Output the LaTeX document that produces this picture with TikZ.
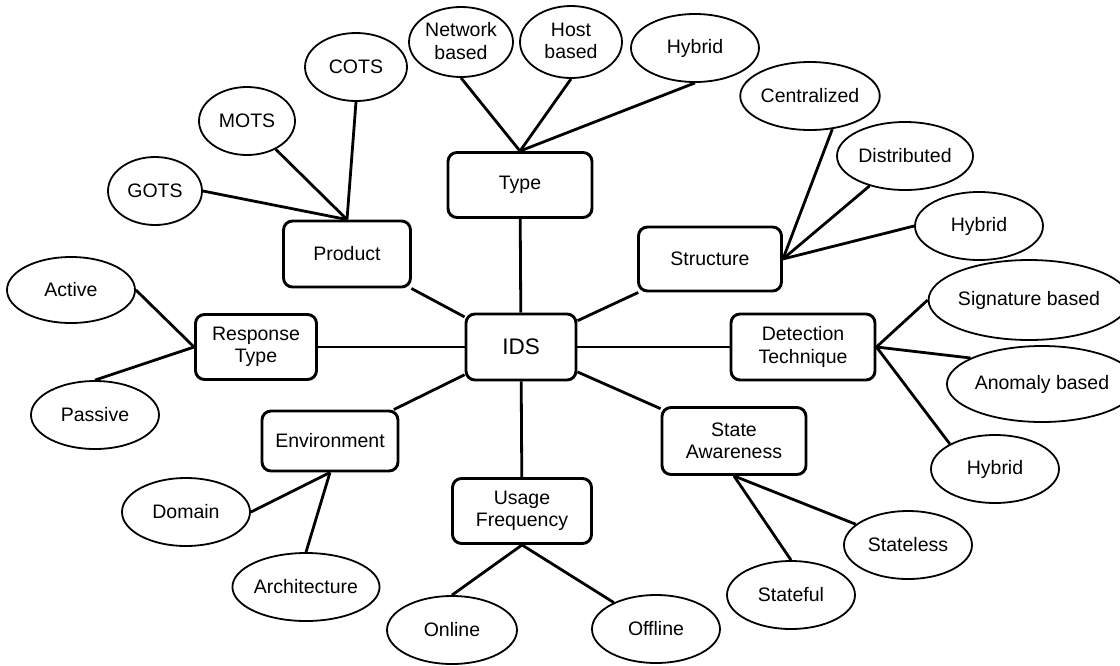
\documentclass[tikz,border=0pt]{standalone}
\usepackage{fontspec}
\setmainfont{Liberation Sans}
\usetikzlibrary{shapes.geometric}
\begin{document}
\begin{tikzpicture}[x=1pt,y=-1pt,
  every node/.style={font=\fontsize{19.5}{22.5}\selectfont},
  box/.style={draw, line width=2.9pt, rounded corners=9pt, align=center, inner sep=0pt},
  leaf/.style={draw, ellipse, line width=1.8pt, align=center, inner sep=0pt},
  conn/.style={line width=2.8pt}]
\useasboundingbox (0,0) rectangle (1120,665);
% central and category boxes
\node[box, minimum width=110pt, minimum height=66pt, font=\fontsize{22.5}{25}\selectfont] (ids) at (521,347) {IDS};
\node[box, minimum width=144pt, minimum height=65pt] (type) at (520,185) {Type};
\node[box, minimum width=127pt, minimum height=66pt] (product) at (347,254) {Product};
\node[box, minimum width=143pt, minimum height=64pt] (structure) at (710,259) {Structure};
\node[box, minimum width=144pt, minimum height=66pt] (detect) at (803,347) {Detection\\Technique};
\node[box, minimum width=121pt, minimum height=65pt] (response) at (256,347) {Response\\Type};
\node[box, minimum width=136pt, minimum height=60pt] (env) at (330,441) {Environment};
\node[box, minimum width=139pt, minimum height=65pt] (usage) at (522,511) {Usage\\Frequency};
\node[box, minimum width=144pt, minimum height=67pt] (state) at (734,441) {State\\Awareness};
% leaves
\node[leaf, minimum width=102pt, minimum height=68pt] (cots) at (356,67) {COTS};
\node[leaf, minimum width=96pt, minimum height=68pt] (mots) at (247,121) {MOTS};
\node[leaf, minimum width=94pt, minimum height=68pt] (gots) at (155,191) {GOTS};
\node[leaf, minimum width=128pt, minimum height=66pt] (active) at (71,290) {Active};
\node[leaf, minimum width=128pt, minimum height=68pt] (passive) at (95,415) {Passive};
\node[leaf, minimum width=128pt, minimum height=68pt] (domain) at (186,512) {Domain};
\node[leaf, minimum width=128pt, minimum height=68pt] (arch) at (306,587) {Architecture};
\node[leaf, minimum width=130pt, minimum height=68pt] (online) at (452,630) {Online};
\node[leaf, minimum width=128pt, minimum height=68pt] (offline) at (656,629) {Offline};
\node[leaf, minimum width=128pt, minimum height=68pt] (stateful) at (791,595) {Stateful};
\node[leaf, minimum width=128pt, minimum height=68pt] (stateless) at (908,545) {Stateless};
\node[leaf, minimum width=128pt, minimum height=68pt] (hybridd) at (995,469) {Hybrid};
\node[leaf, minimum width=154pt, minimum height=76pt] (anomaly) at (1042,384) {Anomaly based};
\node[leaf, minimum width=162pt, minimum height=80pt] (signature) at (1029,300) {Signature based};
\node[leaf, minimum width=128pt, minimum height=68pt] (hybrids) at (979,226) {Hybrid};
\node[leaf, minimum width=136pt, minimum height=68pt] (distributed) at (905,156) {Distributed};
\node[leaf, minimum width=128pt, minimum height=68pt] (centralized) at (810,96) {Centralized};
\node[leaf, minimum width=128pt, minimum height=68pt] (hybridt) at (695,48) {Hybrid};
\node[leaf, minimum width=102pt, minimum height=72pt, text depth=2pt] (host) at (571,42) {Host\\based};
\node[leaf, minimum width=104pt, minimum height=70pt, text depth=2pt] (network) at (461,42) {Network\\based};
% connectors from IDS
\draw[conn] (ids) -- (type);
\draw[conn] (ids) -- (product);
\draw[conn] (ids) -- (structure);
\draw[conn] (ids) -- (detect);
\draw[conn] (ids) -- (response);
\draw[conn] (ids) -- (env);
\draw[conn] (ids) -- (usage);
\draw[conn] (ids) -- (state);
% leaf connectors
\draw[conn] (gots.east) -- (product.north);
\draw[conn] (mots) -- (product.north);
\draw[conn] (cots.south) -- (product.north);
\draw[conn] (network.south) -- (type.north);
\draw[conn] (host.south) -- (type.north);
\draw[conn] (hybridt.south) -- (type.north);
\draw[conn] (centralized.-56) -- (structure.east);
\draw[conn] (distributed) -- (structure.east);
\draw[conn] (hybrids.west) -- (structure.east);
\draw[conn] (signature.west) -- (detect.east);
\draw[conn] (anomaly.160) -- (detect.east);
\draw[conn] (hybridd.151) -- (detect.east);
\draw[conn] (active.east) -- (response.west);
\draw[conn] (passive.north) -- (response.west);
\draw[conn] (env.south) -- (domain.east);
\draw[conn] (env.south) -- (arch.north);
\draw[conn] (usage.south) -- (online.north);
\draw[conn] (usage.south) -- (offline);
\draw[conn] (state.south) -- (stateful.north);
\draw[conn] (state.south) -- (stateless);
\end{tikzpicture}
\end{document}
